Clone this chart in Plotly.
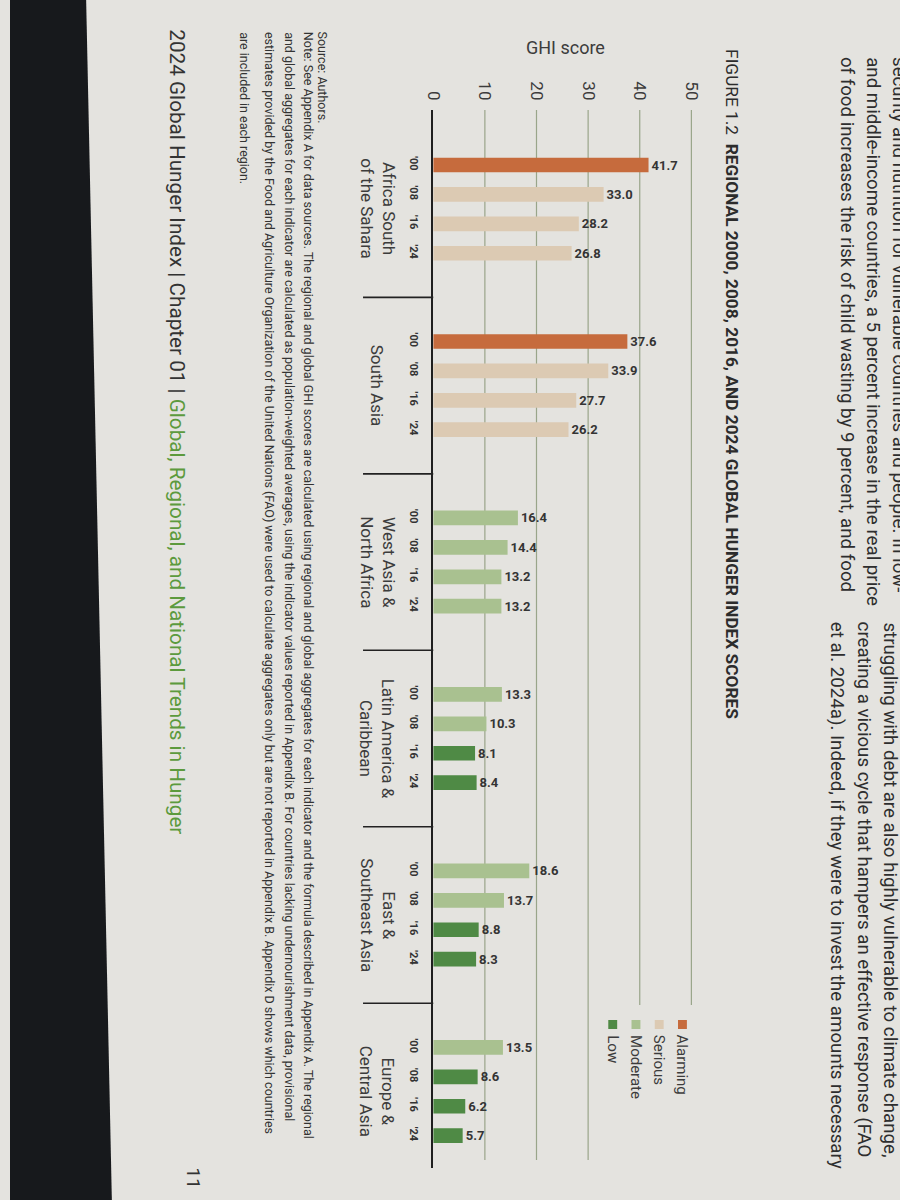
import plotly.graph_objects as go

# data
regions = ["Africa South<br>of the Sahara", "South Asia", "West Asia &<br>North Africa",
           "Latin America &<br>Caribbean", "East &<br>Southeast Asia", "Europe &<br>Central Asia"]
years = ["'00", "'08", "'16", "'24"]
africa_south_sahara = [41.7, 33.0, 28.2, 26.8]
south_asia = [37.6, 33.9, 27.7, 26.2]
west_asia_north_africa = [16.4, 14.4, 13.2, 13.2]
latin_america_caribbean = [13.3, 10.3, 8.1, 8.4]
east_southeast_asia = [18.6, 13.7, 8.8, 8.3]
europe_central_asia = [13.5, 8.6, 6.2, 5.7]
severity_names = ["Alarming", "Serious", "Moderate", "Low"]
severity_floor = [35.0, 20.0, 10.0, 0.0]
ghi_ticks = [0, 10, 20, 30, 40, 50]

scores = [africa_south_sahara, south_asia, west_asia_north_africa,
          latin_america_caribbean, east_southeast_asia, europe_central_asia]

W, H = 900, 1200
GROUP_STEP = 6
colors = {"Alarming": "#c66b3d", "Serious": "#dccab3", "Moderate": "#a9c190", "Low": "#4f8a45"}
FONT = "Roboto"
INK = "#343434"


def px_x(v):
    return v / W


def px_y(v):
    return 1 - v / H


def severity(v):
    for name, floor in zip(severity_names, severity_floor):
        if v >= floor:
            return name


# bar positions along the category axis
bars = {name: {"x": [], "y": []} for name in severity_names}
tick_pos, tick_txt = [], []
for g, vals in enumerate(scores):
    for i, v in enumerate(vals):
        pos = g * GROUP_STEP + i
        s = severity(v)
        bars[s]["x"].append(v)
        bars[s]["y"].append(pos)
        tick_pos.append(pos)
        tick_txt.append("<b>" + years[i] + "</b>")

fig = go.Figure()
for name in severity_names:
    fig.add_trace(go.Bar(
        x=bars[name]["x"], y=bars[name]["y"], orientation="h", name=name,
        marker=dict(color=colors[name], line=dict(width=0)),
        width=0.5,
        text=[f"{v:.1f}" for v in bars[name]["x"]],
        textposition="outside", textangle=0, constraintext="none",
        textfont=dict(family=FONT, size=13, color=INK, weight="bold"),
        cliponaxis=False, showlegend=False, hoverinfo="skip",
    ))

shapes = []
# photo background strip on the left
shapes.append(dict(type="path", xref="paper", yref="paper",
                   path=f"M 0,1 L {px_x(77)},1 L {px_x(103)},0 L 0,0 Z",
                   fillcolor="#17191c", line=dict(width=0)))
# gridlines
for t in ghi_ticks[1:]:
    shapes.append(dict(type="line", xref="x", yref="paper", x0=t, x1=t,
                       y0=px_y(110), y1=px_y(1160 if t <= 30 else 1005),
                       line=dict(color="#99a58a", width=1.2), layer="below"))
# region separators
for g in range(len(regions) - 1):
    ypos = g * GROUP_STEP + 4.5
    shapes.append(dict(type="line", xref="paper", yref="y", x0=px_x(357), x1=px_x(428),
                       y0=ypos, y1=ypos, line=dict(color="#222222", width=1.6)))

annotations = []


def rot(text, x, y, size, color=INK):
    annotations.append(dict(text=text, x=px_x(x), y=px_y(y), xref="paper", yref="paper",
                            textangle=90, showarrow=False, xanchor="center", yanchor="top",
                            font=dict(family=FONT, size=size, color=color)))


# region labels
for g, name in enumerate(regions):
    annotations.append(dict(text=name, x=px_x(372), y=g * GROUP_STEP + 1.5, xref="paper", yref="y",
                            textangle=90, showarrow=False, xanchor="center", yanchor="middle",
                            align="center", font=dict(family=FONT, size=17, color="#3c3c3c")))

# axis title (horizontal in the photo)
annotations.append(dict(text="GHI score", x=px_x(562), y=px_y(47), xref="paper", yref="paper",
                        xanchor="center", yanchor="middle", showarrow=False,
                        font=dict(family=FONT, size=18, color="#3c3c3c")))

# legend
for k, name in enumerate(severity_names):
    cx = 680 - k * 23.5
    shapes.append(dict(type="rect", xref="paper", yref="paper",
                       x0=px_x(cx - 4.5), x1=px_x(cx + 4.5), y0=px_y(1020), y1=px_y(1029),
                       fillcolor=colors[name], line=dict(width=0)))
    rot(name, cx, 1033, 15, color="#3c3c3c")

# title
rot("FIGURE 1.2  <b>REGIONAL 2000, 2008, 2016, AND 2024 GLOBAL HUNGER INDEX SCORES</b>",
    730, 47, 17.3, color="#2c2c2c")

# running text of the page
rot("security and nutrition for vulnerable countries and people. In low-", 899, 55, 18.7, color="#2e2e2e")
rot("and middle-income countries, a 5 percent increase in the real price", 872, 55, 18.7, color="#2e2e2e")
rot("of food increases the risk of child wasting by 9 percent, and food", 846, 55, 18.7, color="#2e2e2e")
rot("struggling with debt are also highly vulnerable to climate change,", 890, 620, 18.7, color="#2e2e2e")
rot("creating a vicious cycle that hampers an effective response (FAO", 864, 620, 18.7, color="#2e2e2e")
rot("et al. 2024a). Indeed, if they were to invest the amounts necessary", 837, 620, 18.7, color="#2e2e2e")

# source and note
rot("Source: Authors.", 317, 30, 12.5, color="#333333")
note_lines = [
    "Note: See Appendix A for data sources. The regional and global GHI scores are calculated using regional and global aggregates for each indicator and the formula described in Appendix A. The regional",
    "and global aggregates for each indicator are calculated as population-weighted averages, using the indicator values reported in Appendix B. For countries lacking undernourishment data, provisional",
    "estimates provided by the Food and Agriculture Organization of the United Nations (FAO) were used to calculate aggregates only but are not reported in Appendix B. Appendix D shows which countries",
    "are included in each region.",
]
for k, line in enumerate(note_lines):
    rot(line, 302 - k * 19.5 - (6 if k == 3 else 0), 30, 12.5, color="#333333")

# footer
rot("2024 Global Hunger Index | Chapter 01 | "
    "<span style='color:#5c9a3d'>Global, Regional, and National Trends in Hunger</span>",
    168, 27, 20.7, color="#333333")
rot("11", 186, 1166, 19, color="#333333")

fig.update_layout(
    width=W, height=H,
    margin=dict(l=0, r=0, t=0, b=0),
    paper_bgcolor="#e4e3df", plot_bgcolor="rgba(0,0,0,0)",
    shapes=shapes, annotations=annotations,
    showlegend=False,
    xaxis=dict(domain=[px_x(428), px_x(700)], range=[0, 52.1], side="top",
               tickvals=ghi_ticks, tickangle=90, ticks="", ticklabelstandoff=6,
               tickfont=dict(family=FONT, size=17, color="#3c3c3c"),
               showgrid=False, zeroline=False, showline=False, fixedrange=True),
    yaxis=dict(domain=[px_y(1168), px_y(110)], range=[34.1, -1.87],
               tickvals=tick_pos, ticktext=tick_txt, tickangle=90, ticks="", ticklabelstandoff=8,
               tickfont=dict(family=FONT, size=11, color=INK),
               showgrid=False, zeroline=False, showline=True,
               linecolor="#1f1f1f", linewidth=1.6, fixedrange=True),
)

fig.write_html("out.html", config={"displayModeBar": False},
               post_script="document.body.style.margin='0px';")
